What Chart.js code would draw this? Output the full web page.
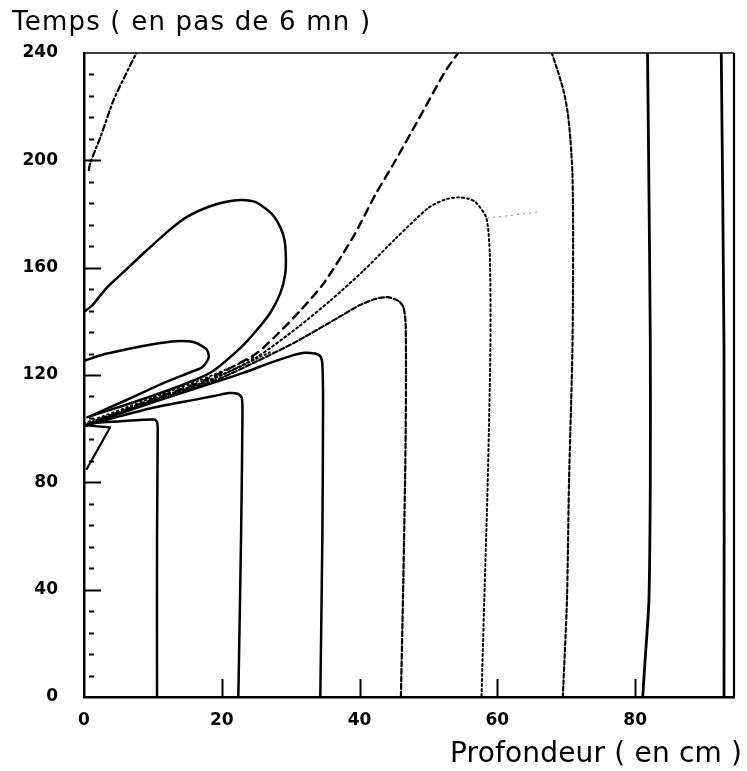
<!DOCTYPE html>
<html>
<head>
<meta charset="utf-8">
<script src="https://cdn.jsdelivr.net/npm/chart.js@4.4.1/dist/chart.umd.min.js"></script>
<style>
  html, body { margin: 0; padding: 0; background: #fff; }
  canvas { display: block; }
</style>
</head>
<body>
<canvas id="c" width="747" height="771"></canvas>
<script>
// ---- Axis / tick data ----
const xTickValues = [0, 20, 40, 60, 80];
const yTickLabels = [0, 40, 80, 120, 160, 200, 240];
const xRange = [0, 94.35];
const yRange = [0, 240];
const yMinorStep = 8;
const xTitle = "Profondeur ( en cm )";
const yTitle = "Temps ( en pas de 6 mn )";

// ---- Contour lines: [depth (cm), time step] ----
const contourA = [[0,101],[1.4,102.1],[5,102.7],[10.2,103.4],[10.6,102.5],[10.7,100],[10.6,60],[10.6,0]];
const contourTri = [[0.3,101.2],[3.8,100.5],[0.4,85]];
const contourB = [[0,101],[5,104.5],[10,107.8],[16.7,111.1],[19.5,112.5],[21,113.3],[22.3,113],[22.9,111.5],[23,105],[22.8,60],[22.4,0]];
const contourC = [[0,101],[10,109.8],[16.7,115.4],[23.1,120.8],[27,124.5],[30.5,127.5],[32,128.3],[33.5,128],[34.3,127],[34.6,124],[34.7,110],[34.6,60],[34.3,0]];
const contourD = [[0,101],[10,110.2],[16.7,115.9],[20,119],[25,125],[30.5,132],[36.9,141.4],[40,146],[42.4,148.4],[44.1,149],[45.7,147.5],[46.4,145],[46.7,138],[46.7,100],[46.4,50],[46,0]];
const contourE = [[0,101],[10,110.6],[16.7,116.4],[20,120],[25,126.5],[31,137.7],[35.7,147.6],[40.5,158.7],[45.3,171],[50,182.3],[52.5,185.5],[54.3,186.2],[55.8,185.7],[56.9,184.3],[58.4,178.5],[58.9,165],[59,132.7],[58.6,80],[58.1,36],[57.7,0]];
const contourETail = [[58.6,178.5],[62,179.5],[66.3,180.9]];
const contourM = [[0,101],[10,111],[16.7,117.2],[20,121],[25,128],[28,135],[31.4,144],[34.8,154.2],[39.1,171.6],[42.4,187.7],[45,199],[48.5,215],[52.4,233],[54.3,240]];
const bandDots1 = [[0,101.5],[10,110.9],[16.7,116.7],[22,122.3],[27,128.5]];
const bandDots2 = [[0,102],[10,111.6],[16.7,117.9],[21,122.5],[25,127]];
const contourK = [[0,143.5],[1.2,146],[3.3,152.5],[6,159],[9,166.2],[12.4,174],[15,179],[18.1,182.7],[20.5,184.5],[22.9,185.2],[25,184.3],[27.2,180.2],[28.5,175],[29.1,170.3],[29.3,164],[29.2,157.5],[28.5,150.5],[27,143],[25,136.5],[22.9,130.6],[19,122],[16.7,118.8],[14,116],[10,112.3],[5,108],[0.5,104.3]];
const contourL = [[0,125.3],[3,127.8],[6.2,129.6],[10,131.5],[13.3,132.6],[16,132.2],[17.8,129.5],[18.1,126.5],[17.2,123],[15.7,121.3],[12,117.5],[6,110.5],[1,104.8]];
const contourJ = [[0.7,196.4],[0.9,199],[2.4,208.8],[4.3,222.5],[5.9,231.2],[7.6,240]];
const contourF = [[69.5,0],[70.1,36],[70.4,80],[70.9,130],[71,170],[70.9,195],[70.6,208],[70.2,218],[69.6,226],[68.8,233],[67.9,240]];
const contourG = [[81.1,0],[81.4,12],[82,36],[82.2,80],[82.2,132],[82,190],[81.8,240]];
const contourH = [[92.9,0],[92.9,130],[92.5,240]];

function pts(arr) { return arr.map(p => ({x: p[0], y: p[1]})); }
function line(arr, width, dash, color, tension) {
  return {
    data: pts(arr), showLine: true, pointRadius: 0, borderColor: color || '#000',
    borderWidth: width, borderDash: dash || [], tension: tension === undefined ? 0.25 : tension,
    fill: false, borderCapStyle: 'round', borderJoinStyle: 'round'
  };
}

const datasets = [
  line(contourA, 2.5),
  line(contourTri, 2.2, [], '#000', 0),
  line(contourB, 2.5),
  line(contourC, 2.5),
  line(contourD, 2.2, [5, 2.5]),
  line(contourE, 2, [2, 3]),
  line(contourETail, 1.2, [1, 5], '#999'),
  line(contourM, 2.4, [8, 6]),
  line(bandDots1, 1.8, [1.5, 3]),
  line(bandDots2, 1.8, [1.5, 3.5]),
  line(contourK, 2.5),
  line(contourL, 2.5),
  line(contourJ, 2.2, [6, 3, 2, 3]),
  line(contourF, 2.1, [4, 2.5]),
  line(contourG, 2.8),
  line(contourH, 2.8)
];

const decorPlugin = {
  id: 'decor',
  afterDatasetsDraw(chart) {
    const ctx = chart.ctx, a = chart.chartArea;
    const xs = chart.scales.x, ys = chart.scales.y;
    ctx.save();
    ctx.strokeStyle = '#000';
    ctx.lineCap = 'butt';
    ctx.lineWidth = 1.6;
    ctx.beginPath(); ctx.moveTo(a.left, a.top); ctx.lineTo(a.right, a.top); ctx.stroke();
    ctx.lineWidth = 2.2;
    ctx.beginPath(); ctx.moveTo(a.right, a.top); ctx.lineTo(a.right, a.bottom); ctx.stroke();
    ctx.lineWidth = 2;
    for (let v = yRange[0] + yMinorStep; v < yRange[1]; v += yMinorStep) {
      const py = Math.round(ys.getPixelForValue(v)) + 0.5;
      ctx.beginPath();
      if (v % 40 === 0) { ctx.moveTo(a.left, py); ctx.lineTo(a.left + 17, py); }
      else { ctx.moveTo(a.left + 5, py); ctx.lineTo(a.left + 10, py); }
      ctx.stroke();
    }
    xTickValues.forEach(v => {
      if (v === 0) return;
      const px = Math.round(xs.getPixelForValue(v)) + 0.5;
      ctx.beginPath(); ctx.moveTo(px, a.bottom); ctx.lineTo(px, a.bottom - 18); ctx.stroke();
    });
    ctx.restore();
  },
  afterDraw(chart) {
    const ctx = chart.ctx;
    function spaced(text, font, x, y, width) {
      ctx.save();
      ctx.font = font;
      ctx.fillStyle = '#000';
      ctx.textBaseline = 'alphabetic';
      ctx.textAlign = 'left';
      const w = ctx.measureText(text).width;
      const sp = Math.max(0, (width - w) / (text.length - 1));
      if ('letterSpacing' in ctx) ctx.letterSpacing = sp.toFixed(2) + 'px';
      ctx.fillText(text, x, y);
      ctx.restore();
    }
    spaced(yTitle, '26px "DejaVu Sans"', 12, 30, 358);
    spaced(xTitle, '28px "DejaVu Sans"', 450, 762, 292);
  }
};

new Chart(document.getElementById('c'), {
  type: 'scatter',
  data: { datasets },
  options: {
    responsive: false,
    animation: false,
    devicePixelRatio: 1,
    layout: { padding: { top: 53, right: 4, left: 0, bottom: 0 } },
    plugins: { legend: { display: false }, tooltip: { enabled: false }, title: { display: false } },
    scales: {
      x: {
        type: 'linear', min: xRange[0], max: xRange[1],
        afterFit(s) { s.height = 74; },
        grid: { display: false, drawTicks: false },
        border: { display: true, color: '#000', width: 2.5 },
        ticks: {
          stepSize: 20, autoSkip: false, maxRotation: 0, padding: 13,
          color: '#000', font: { family: '"DejaVu Sans"', size: 17, weight: 'bold' },
          callback: v => xTickValues.includes(v) ? String(v) : ''
        }
      },
      y: {
        type: 'linear', min: yRange[0], max: yRange[1],
        afterFit(s) { s.width = 84; },
        grid: { display: false, drawTicks: false },
        border: { display: true, color: '#000', width: 2.5 },
        ticks: {
          stepSize: yMinorStep, autoSkip: false, padding: 26,
          color: '#000', font: { family: '"DejaVu Sans"', size: 17, weight: 'bold' },
          callback: v => yTickLabels.includes(v) ? String(v) : ''
        }
      }
    }
  },
  plugins: [decorPlugin]
});
</script>
</body>
</html>
